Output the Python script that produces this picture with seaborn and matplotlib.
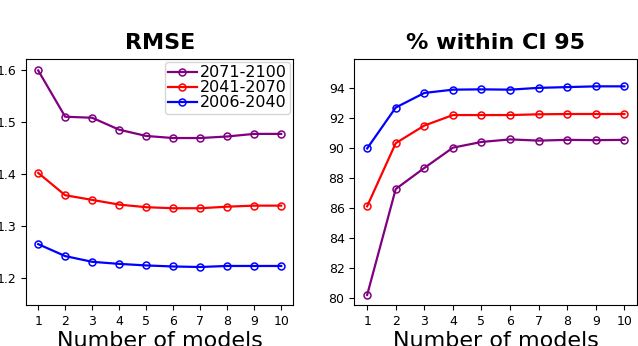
import numpy as np
import pandas as pd
import seaborn as sns
import matplotlib.pyplot as plt

# --- dados ---
n_models = [1, 2, 3, 4, 5, 6, 7, 8, 9, 10]
periods = ["2071-2100", "2041-2070", "2006-2040"]
period_colors = ["purple", "red", "blue"]

rmse_2071_2100 = [1.600, 1.511, 1.509, 1.486, 1.474, 1.470, 1.470, 1.473, 1.478, 1.478]
rmse_2041_2070 = [1.403, 1.360, 1.351, 1.342, 1.337, 1.335, 1.335, 1.338, 1.340, 1.340]
rmse_2006_2040 = [1.266, 1.243, 1.232, 1.228, 1.225, 1.223, 1.222, 1.224, 1.224, 1.224]

ci_2071_2100 = [80.2, 87.25, 88.65, 90.0, 90.38, 90.55, 90.47, 90.52, 90.5, 90.52]
ci_2041_2070 = [86.1, 90.3, 91.47, 92.17, 92.17, 92.17, 92.22, 92.24, 92.24, 92.24]
ci_2006_2040 = [89.95, 92.67, 93.64, 93.86, 93.88, 93.86, 93.98, 94.03, 94.08, 94.08]

rmse_series = [rmse_2071_2100, rmse_2041_2070, rmse_2006_2040]
ci_series = [ci_2071_2100, ci_2041_2070, ci_2006_2040]

# estilo padrao do matplotlib (o original nao usa tema do seaborn)
plt.rcParams['font.family'] = ['DejaVu Sans']

fig = plt.figure(figsize=(6.38, 3.46), dpi=100)
ax_rmse = fig.add_axes([0.0408, 0.1171, 0.419, 0.7124])
ax_ci = fig.add_axes([0.5553, 0.1171, 0.4436, 0.7124])

line_kw = dict(marker='o', markerfacecolor='none', markersize=5, markeredgewidth=1.1, linewidth=1.6)

for label, color, vals in zip(periods, period_colors, rmse_series):
    sns.lineplot(x=n_models, y=vals, ax=ax_rmse, color=color, markeredgecolor=color,
                 label=label, **line_kw)

for label, color, vals in zip(periods, period_colors, ci_series):
    sns.lineplot(x=n_models, y=vals, ax=ax_ci, color=color, markeredgecolor=color,
                 legend=False, **line_kw)

ax_rmse.set_ylim(1.148, 1.622)
ax_ci.set_ylim(79.5, 95.9)
ax_ci.set_yticks([80, 82, 84, 86, 88, 90, 92, 94])

for ax, title in [(ax_rmse, "RMSE"), (ax_ci, "% within CI 95")]:
    ax.set_xlim(0.55, 10.45)
    ax.set_xticks(n_models)
    ax.set_title(title, fontsize=16, fontweight='bold', pad=7.5)
    ax.set_xlabel("Number of models", fontsize=16, labelpad=2)
    ax.tick_params(labelsize=9, length=3.5)

# legenda compacta como no original
ax_rmse.legend(loc='upper right', fontsize=11.5, labelspacing=0.0, handlelength=1.8,
               handletextpad=0.2, borderpad=0.2, borderaxespad=0.2)

plt.savefig("out.png", dpi=100)
